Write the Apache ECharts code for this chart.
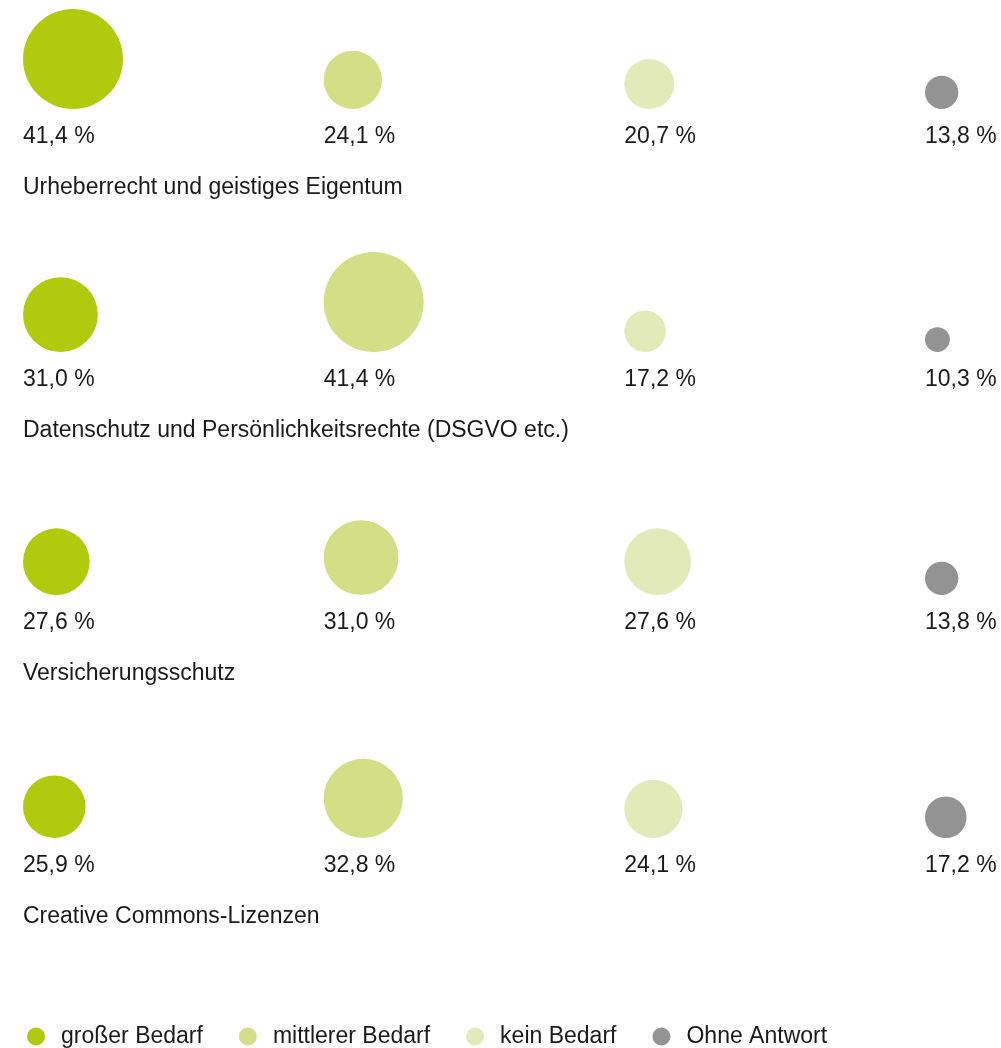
<!DOCTYPE html>
<html>
<head>
<meta charset="utf-8">
<script src="https://cdn.jsdelivr.net/npm/echarts@6/dist/echarts.min.js"></script>
<style>
  html, body { margin: 0; padding: 0; background: #fff; }
  #chart { width: 1001px; height: 1048px; }
</style>
</head>
<body>
<div id="chart"></div>
<script>
const themen = [
    "Urheberrecht und geistiges Eigentum",
    "Datenschutz und Persönlichkeitsrechte (DSGVO etc.)",
    "Versicherungsschutz",
    "Creative Commons-Lizenzen"
];
const antworten = ["großer Bedarf", "mittlerer Bedarf", "kein Bedarf", "Ohne Antwort"];

const grosserBedarf = [41.4, 31.0, 27.6, 25.9];
const mittlererBedarf = [24.1, 41.4, 31.0, 32.8];
const keinBedarf = [20.7, 17.2, 27.6, 24.1];
const ohneAntwort = [13.8, 10.3, 13.8, 17.2];

const werte = [grosserBedarf, mittlererBedarf, keinBedarf, ohneAntwort];
const farben = ["#b1ca0e", "#d3df87", "#e3eaba", "#939393"];

const schrift = "Liberation Sans";
const pxProProzent = 2.415; // Kreisdurchmesser pro Prozentpunkt

function formatProzent(v) {
    return v.toFixed(1).replace(".", ",") + " %";
}

function renderKreis(params, api) {
    const spalte = api.value(0);
    const zeile = api.value(1);
    const v = api.value(2);
    const p = api.coord([spalte, zeile]);
    const r = v * pxProProzent / 2;

    const kinder = [
        {
            type: "circle",
            shape: { cx: p[0] + r, cy: p[1] - r, r: r },
            style: { fill: api.visual("color") }
        },
        {
            type: "text",
            x: p[0],
            y: p[1] + 28,
            style: {
                text: formatProzent(v),
                fill: "#1a1a1a",
                fontSize: 23,
                fontFamily: schrift,
                align: "left",
                verticalAlign: "middle"
            }
        }
    ];

    if (spalte === 0) {
        kinder.push({
            type: "text",
            x: p[0],
            y: p[1] + 79,
            style: {
                text: themen[zeile],
                fill: "#1a1a1a",
                fontSize: 23,
                fontFamily: schrift,
                align: "left",
                verticalAlign: "middle"
            }
        });
    }

    return { type: "group", children: kinder };
}

const chartDom = document.getElementById("chart");
const myChart = echarts.init(chartDom);

const option = {
    animation: false,
    grid: {
        left: 23,
        right: 76,
        top: 109,
        bottom: 210
    },
    xAxis: {
        type: "category",
        data: antworten,
        boundaryGap: false,
        show: false
    },
    yAxis: {
        type: "category",
        data: themen,
        boundaryGap: false,
        inverse: true,
        show: false
    },
    legend: {
        left: 27,
        top: 1025,
        padding: 0,
        icon: "circle",
        itemWidth: 18,
        itemHeight: 18,
        itemGap: 36,
        textStyle: {
            color: "#1a1a1a",
            fontSize: 23,
            fontFamily: schrift,
            padding: [0, 0, 0, 11]
        },
        data: antworten
    },
    series: antworten.map((name, i) => ({
        type: "custom",
        name: name,
        color: farben[i],
        renderItem: renderKreis,
        encode: { x: 0, y: 1 },
        data: werte[i].map((v, j) => [i, j, v])
    }))
};

myChart.setOption(option);
</script>
</body>
</html>
